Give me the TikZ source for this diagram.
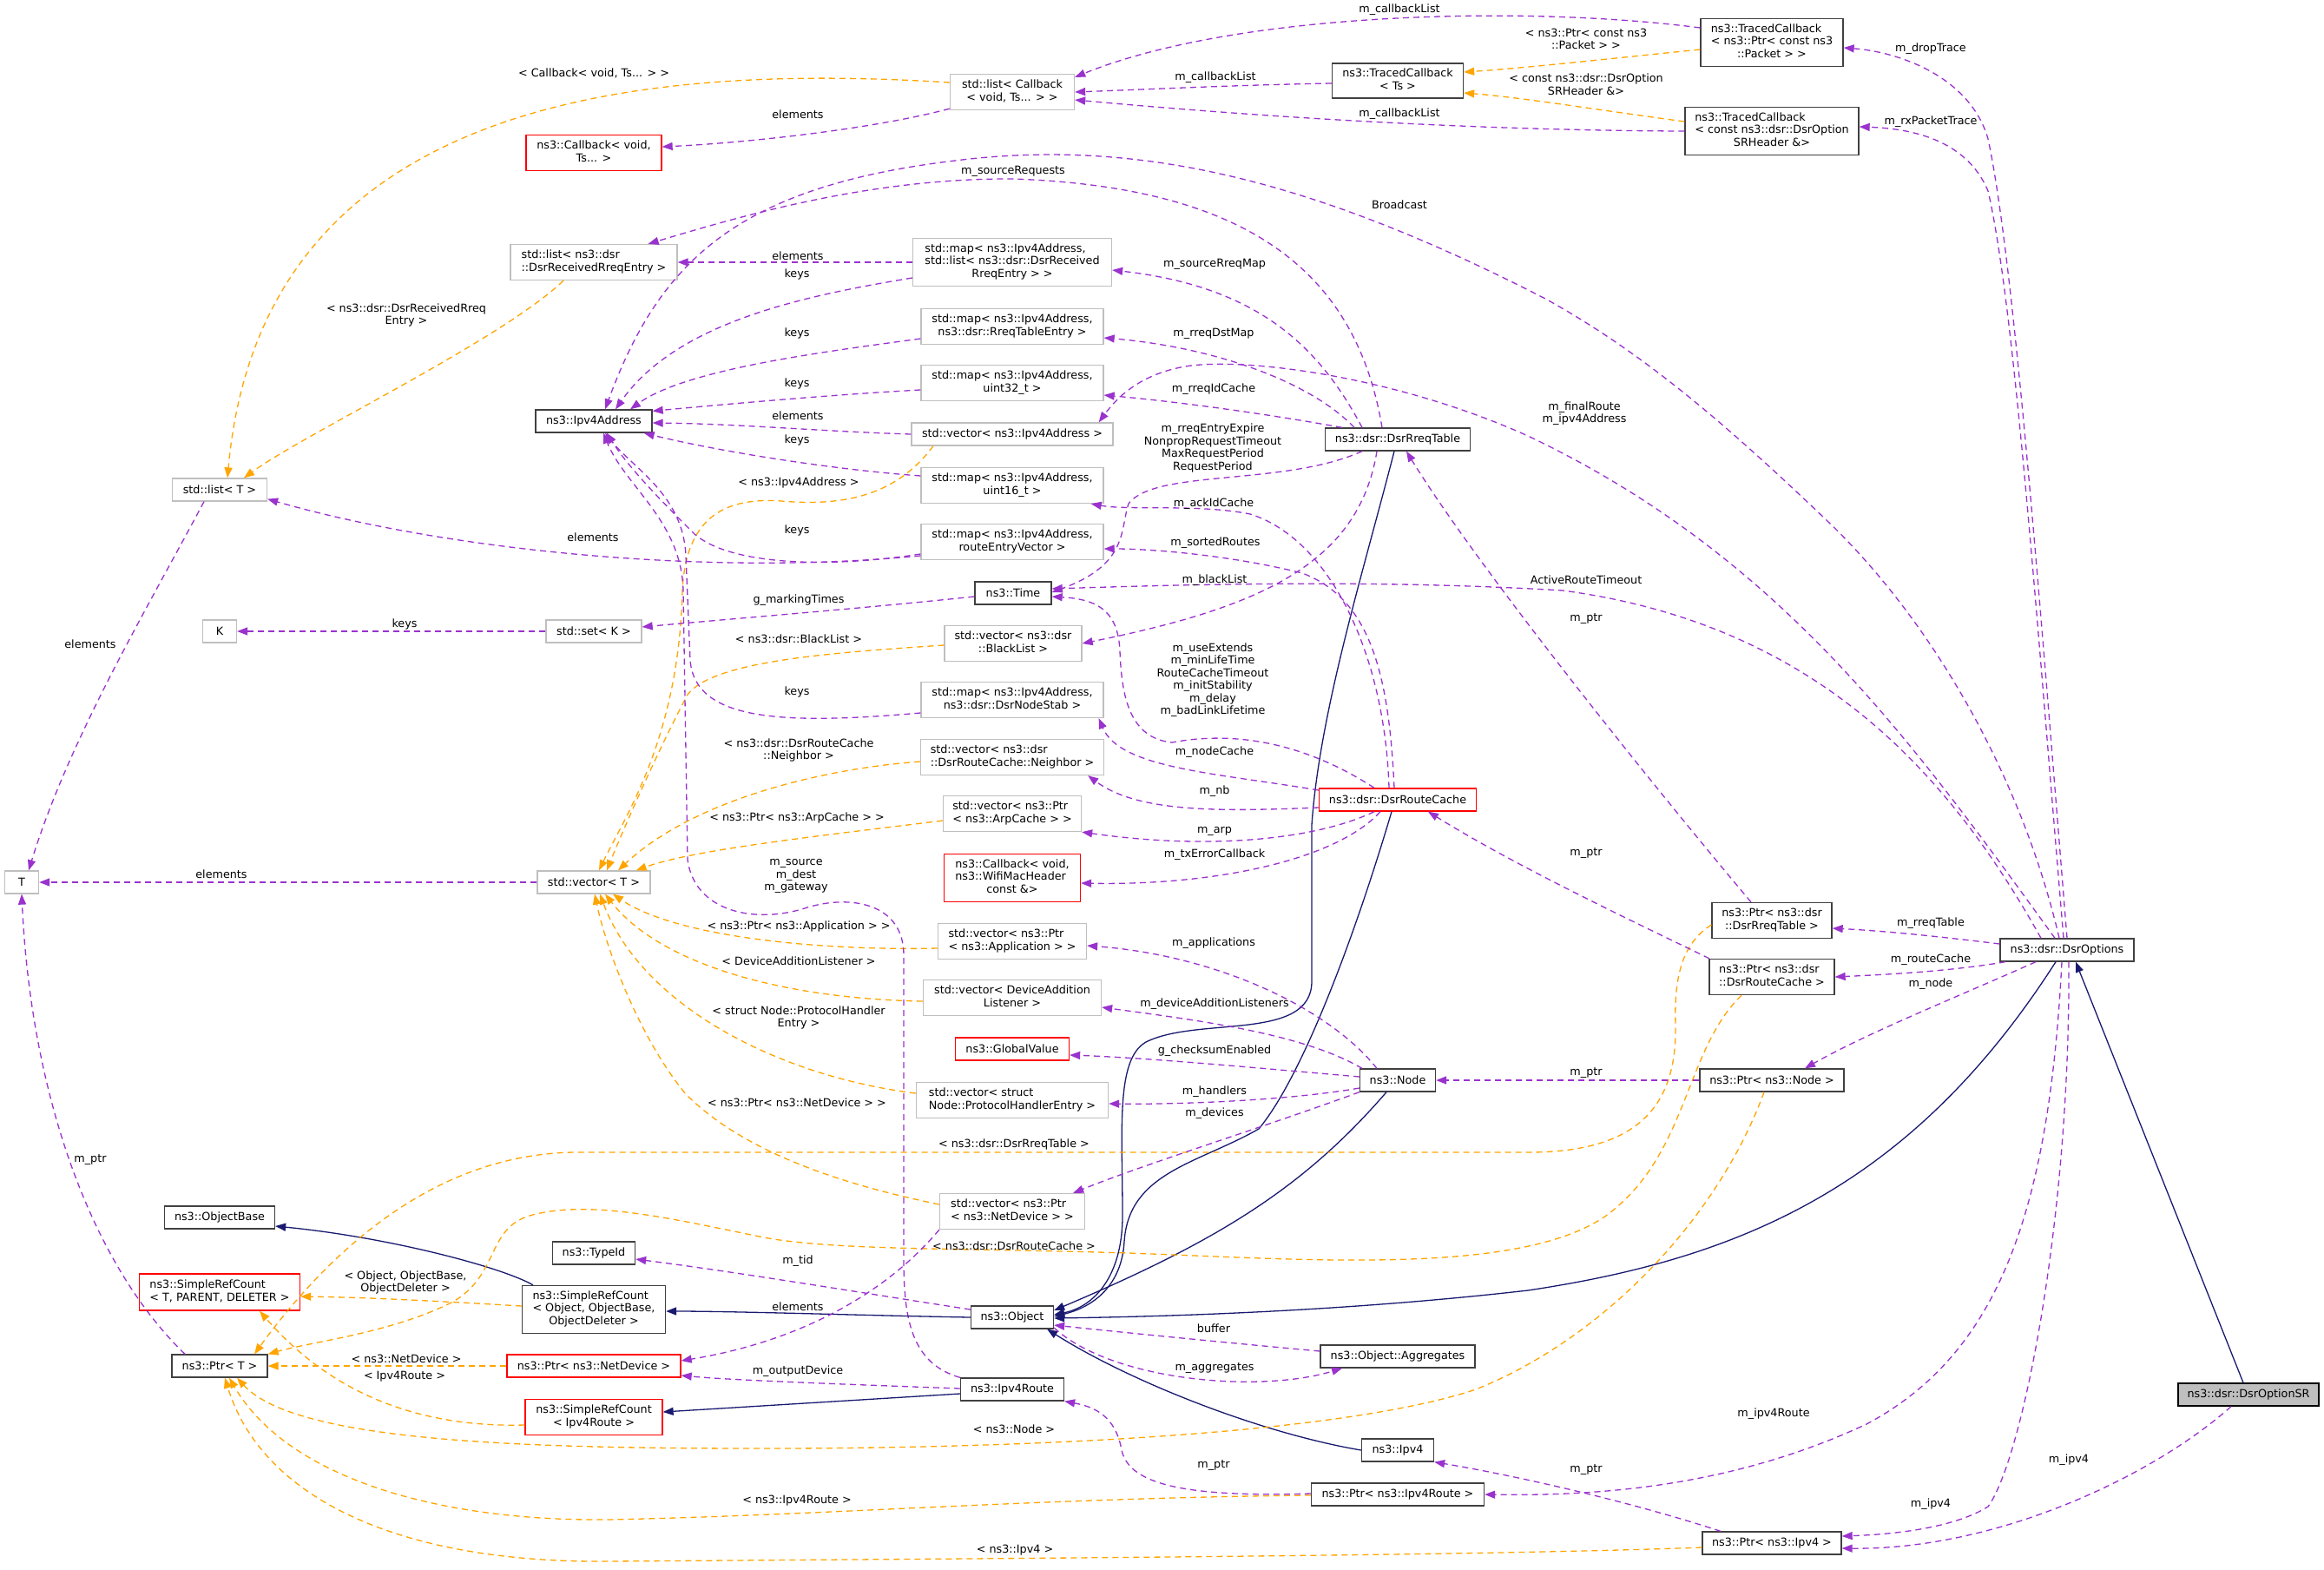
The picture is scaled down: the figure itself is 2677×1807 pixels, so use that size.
\documentclass[tikz,border=0pt]{standalone}
\usepackage{fontspec}
\setmainfont{DejaVu Sans}
\usetikzlibrary{arrows.meta}
\definecolor{usec}{HTML}{9A32CD}
\definecolor{tmplc}{HTML}{FFA500}
\definecolor{inhc}{HTML}{191970}
\definecolor{docb}{HTML}{404040}
\definecolor{extb}{HTML}{BFBFBF}
\definecolor{trb}{HTML}{FF0000}
\newcommand{\dxl}[2]{\begin{tabular}{@{}l@{}}#1\\\multicolumn{1}{@{}c@{}}{#2}\end{tabular}}
\begin{document}
\begin{tikzpicture}[x=1pt,y=-1pt,
  font=\fontsize{12.75pt}{14.5pt}\selectfont,
  box/.style={draw, fill=white, line width=1.3pt, inner sep=0pt, align=center},
  doc/.style={box, draw=docb},
  ext/.style={box, draw=extb},
  trn/.style={box, draw=trb},
  mainbox/.style={box, draw=black, fill=extb},
  wh/.style 2 args={minimum width=#1pt, minimum height=#2pt},
  usee/.style={draw=usec, line width=1.3pt, dash pattern=on 7pt off 5pt, -{Triangle[length=12pt,width=9pt]}},
  tmpe/.style={draw=tmplc, line width=1.3pt, dash pattern=on 7pt off 5pt, -{Triangle[length=12pt,width=9pt]}},
  inhe/.style={draw=inhc, line width=1.3pt, -{Triangle[length=12pt,width=9pt]}},
  lab/.style={align=center, inner sep=0pt}]
\fill[white] (0,0) rectangle (2677,1807);
\useasboundingbox (0,0) rectangle (2677,1807);

% ---------------- nodes ----------------
\node[doc,wh={164}{55}] (tcpkt) at (2041,49) {\dxl{ns3::TracedCallback\\< ns3::Ptr< const ns3}{::Packet > >}};
\node[doc,wh={200}{55}] (tcsr) at (2041,151) {\dxl{ns3::TracedCallback\\< const ns3::dsr::DsrOption}{SRHeader \&>}};
\node[doc,wh={151}{40}] (tcts) at (1610,93) {\dxl{ns3::TracedCallback}{< Ts >}};
\node[ext,wh={143}{41}] (listcb) at (1166,106) {\dxl{std::list< Callback}{< void, Ts... > >}};
\node[trn,wh={156}{41}] (cbvoid) at (684,176) {\dxl{ns3::Callback< void,}{Ts... >}};
\node[ext,wh={192}{41}] (listrreq) at (684,302) {\dxl{std::list< ns3::dsr}{::DsrReceivedRreqEntry >}};
\node[doc,wh={134}{26}] (ipv4addr) at (684,485) {ns3::Ipv4Address};
\node[ext,wh={109}{26}] (listT) at (253,564) {std::list< T >};
\node[ext,wh={229}{55}] (mapsrc) at (1166,302) {\dxl{std::map< ns3::Ipv4Address,\\std::list< ns3::dsr::DsrReceived}{RreqEntry > >}};
\node[ext,wh={210}{41}] (maprte) at (1166,376) {\dxl{std::map< ns3::Ipv4Address,}{ns3::dsr::RreqTableEntry >}};
\node[ext,wh={210}{41}] (mapu32) at (1166,441) {\dxl{std::map< ns3::Ipv4Address,}{uint32\_t >}};
\node[ext,wh={232}{26}] (vecip) at (1166,500) {std::vector< ns3::Ipv4Address >};
\node[ext,wh={210}{41}] (mapu16) at (1166,559) {\dxl{std::map< ns3::Ipv4Address,}{uint16\_t >}};
\node[doc,wh={167}{26}] (rreqtab) at (1610,506) {ns3::dsr::DsrRreqTable};
\node[ext,wh={210}{41}] (maprev) at (1166,624) {\dxl{std::map< ns3::Ipv4Address,}{routeEntryVector >}};
\node[doc,wh={88}{26}] (time) at (1167,683) {ns3::Time};
\node[ext,wh={158}{41}] (vecbl) at (1167,741) {\dxl{std::vector< ns3::dsr}{::BlackList >}};
\node[ext,wh={210}{41}] (mapns) at (1166,806) {\dxl{std::map< ns3::Ipv4Address,}{ns3::dsr::DsrNodeStab >}};
\node[ext,wh={211}{41}] (vecnb) at (1166,872) {\dxl{std::vector< ns3::dsr}{::DsrRouteCache::Neighbor >}};
\node[ext,wh={159}{41}] (vecarp) at (1166,937) {\dxl{std::vector< ns3::Ptr}{< ns3::ArpCache > >}};
\node[trn,wh={157}{55}] (cbwifi) at (1166,1011) {\dxl{ns3::Callback< void,\\ns3::WifiMacHeader}{const \&>}};
\node[ext,wh={171}{41}] (vecapp) at (1166,1084) {\dxl{std::vector< ns3::Ptr}{< ns3::Application > >}};
\node[ext,wh={205}{41}] (vecdal) at (1166,1149) {\dxl{std::vector< DeviceAddition}{Listener >}};
\node[trn,wh={131}{26}] (gval) at (1166,1208) {ns3::GlobalValue};
\node[trn,wh={181}{26}] (routec) at (1610,921) {ns3::dsr::DsrRouteCache};
\node[ext,wh={39}{26}] (K) at (253,727) {K};
\node[ext,wh={110}{26}] (setK) at (684,727) {std::set< K >};
\node[ext,wh={39}{26}] (T) at (25,1016) {T};
\node[ext,wh={130}{26}] (vecT) at (684,1016) {std::vector< T >};
\node[doc,wh={138}{41}] (ptrrreq) at (2041,1060) {\dxl{ns3::Ptr< ns3::dsr}{::DsrRreqTable >}};
\node[doc,wh={144}{41}] (ptrrc) at (2041,1125) {\dxl{ns3::Ptr< ns3::dsr}{::DsrRouteCache >}};
\node[doc,wh={154}{26}] (dsropt) at (2381,1094) {ns3::dsr::DsrOptions};
\node[doc,wh={127}{26}] (objbase) at (253,1402) {ns3::ObjectBase};
\node[trn,wh={185}{42}] (srcT) at (253,1488) {\dxl{ns3::SimpleRefCount}{< T, PARENT, DELETER >}};
\node[doc,wh={110}{26}] (ptrT) at (253,1573) {ns3::Ptr< T >};
\node[doc,wh={95}{26}] (typeid) at (684,1443) {ns3::TypeId};
\node[doc,wh={165}{55}] (srcobj) at (684,1508) {\dxl{ns3::SimpleRefCount\\< Object, ObjectBase,}{ObjectDeleter >}};
\node[trn,wh={200}{26}] (ptrnd) at (684,1573) {ns3::Ptr< ns3::NetDevice >};
\node[trn,wh={158}{41}] (srcip) at (684,1632) {\dxl{ns3::SimpleRefCount}{< Ipv4Route >}};
\node[ext,wh={221}{41}] (vecph) at (1166,1267) {\dxl{std::vector< struct}{Node::ProtocolHandlerEntry >}};
\node[doc,wh={87}{26}] (node) at (1610,1244) {ns3::Node};
\node[ext,wh={167}{41}] (vecnd) at (1166,1395) {\dxl{std::vector< ns3::Ptr}{< ns3::NetDevice > >}};
\node[doc,wh={95}{26}] (object) at (1166,1517) {ns3::Object};
\node[doc,wh={178}{26}] (objagg) at (1610,1562) {ns3::Object::Aggregates};
\node[doc,wh={119}{26}] (ipv4route) at (1166,1600) {ns3::Ipv4Route};
\node[doc,wh={83}{26}] (ipv4) at (1610,1670) {ns3::Ipv4};
\node[doc,wh={199}{26}] (ptrir) at (1610,1721) {ns3::Ptr< ns3::Ipv4Route >};
\node[doc,wh={166}{26}] (ptrnode) at (2041,1244) {ns3::Ptr< ns3::Node >};
\node[mainbox,wh={162}{26}] (dsrsr) at (2590,1606) {ns3::dsr::DsrOptionSR};
\node[doc,wh={160}{26}] (ptripv4) at (2041,1777) {ns3::Ptr< ns3::Ipv4 >};

% ---------------- connectors ----------------
\draw[usee] ([yshift=17pt]tcpkt.west) .. controls (1750,5) and (1420,15) .. ([yshift=-4pt]listcb.north east);
\draw[usee] ([yshift=-3pt]tcts.west) .. controls (1420,98) and (1320,103) .. (listcb.east);
\draw[usee] (tcsr.west) .. controls (1650,150) and (1380,128) .. ([yshift=-9pt]listcb.east);
\draw[tmpe] ([yshift=-8pt]tcpkt.west) .. controls (1850,68) and (1760,78) .. ([yshift=10pt]tcts.east);
\draw[tmpe] ([yshift=11pt]tcsr.west) .. controls (1830,125) and (1750,112) .. ([yshift=-14pt]tcts.east);
\draw[tmpe] ([yshift=11pt]listcb.west) .. controls (700,70) and (300,130) .. ([xshift=9pt]listT.north);
\draw[usee] ([yshift=2pt]listcb.south west) .. controls (1000,150) and (850,165) .. ([yshift=7pt]cbvoid.east);
\draw[tmpe] ([xshift=-35pt]listrreq.south) .. controls (580,390) and (350,500) .. ([xshift=28pt]listT.north);
\draw[usee] ([xshift=-18pt]rreqtab.north) .. controls (1560,300) and (1420,215) .. (1167,206) .. controls (1000,205) and (850,250) .. ([xshift=-34pt]listrreq.north east);
\draw[usee] ([xshift=-9pt]dsropt.north) .. controls (2330,900) and (2230,720) .. (2105,600) .. controls (2000,500) and (1900,410) .. (1780,344) .. controls (1500,200) and (1300,160) .. (1100,185) .. controls (850,215) and (760,300) .. ([xshift=13pt]ipv4addr.north);
\draw[usee] (mapsrc.west) -- (listrreq.east);
\draw[usee] ([yshift=-18pt]mapsrc.west) .. controls (930,340) and (780,370) .. ([xshift=25pt]ipv4addr.north);
\draw[usee] ([yshift=-14pt]maprte.west) .. controls (950,405) and (790,425) .. ([xshift=42pt]ipv4addr.north);
\draw[usee] ([yshift=-8pt]mapu32.west) .. controls (950,455) and (820,467) .. ([yshift=-2pt]ipv4addr.north east);
\draw[usee] (vecip.west) .. controls (950,497) and (850,488) .. ([yshift=-2pt]ipv4addr.east);
\draw[usee] ([yshift=11pt]mapu16.west) .. controls (950,540) and (820,518) .. ([xshift=-10pt]ipv4addr.south east);
\draw[tmpe] ([xshift=-91pt]vecip.south) .. controls (1040,560) and (990,585) .. (900,577) .. controls (830,572) and (790,600) .. (786,680) .. controls (782,850) and (720,940) .. ([xshift=6pt]vecT.north);
\draw[tmpe] ([yshift=-2pt]vecbl.west) .. controls (950,752) and (820,762) .. (792,800) .. controls (760,860) and (720,950) .. ([xshift=15pt]vecT.north);
\draw[tmpe] ([yshift=-5pt]vecnb.west) .. controls (950,885) and (800,920) .. ([xshift=28pt]vecT.north);
\draw[tmpe] ([yshift=-8pt]vecarp.west) .. controls (950,962) and (800,978) .. ([xshift=-17pt]vecT.north east);
\draw[tmpe] ([yshift=-8pt]vecapp.west) .. controls (950,1095) and (780,1080) .. ([xshift=22pt]vecT.south);
\draw[tmpe] ([yshift=-4pt]vecdal.west) .. controls (900,1150) and (760,1110) .. ([xshift=13pt]vecT.south);
\draw[tmpe] ([yshift=8pt]vecph.west) .. controls (900,1240) and (740,1160) .. ([xshift=7pt]vecT.south);
\draw[tmpe] ([yshift=8pt]vecnd.west) .. controls (950,1360) and (850,1320) .. (790,1260) .. controls (740,1200) and (700,1100) .. ([xshift=1pt]vecT.south);
\draw[usee] (ipv4route.north west) .. controls (1050,1570) and (1041,1520) .. (1041,1450) -- (1041,1100) .. controls (1041,1040) and (980,1030) .. (930,1045) .. controls (870,1065) and (800,1050) .. (792,990) -- (787,680) .. controls (785,600) and (720,560) .. ([xshift=11pt]ipv4addr.south);
\draw[usee] ([yshift=-14pt]maprev.west) .. controls (950,655) and (840,650) .. (800,615) .. controls (765,580) and (725,540) .. ([xshift=15pt]ipv4addr.south);
\draw[usee] ([yshift=-15pt]mapns.west) .. controls (900,835) and (800,830) .. (795,760) -- (790,640) .. controls (787,570) and (730,540) .. ([xshift=13pt]ipv4addr.south);
\draw[usee] ([yshift=-16pt]maprev.west) .. controls (800,665) and (500,630) .. ([yshift=3pt]listT.south east);
\draw[usee] ([xshift=-41pt]rreqtab.north) .. controls (1520,400) and (1450,330) .. ([yshift=-9pt]mapsrc.east);
\draw[usee] ([xshift=-50pt]rreqtab.north) .. controls (1510,440) and (1400,400) .. ([yshift=-13pt]maprte.east);
\draw[usee] ([xshift=-64pt]rreqtab.north) .. controls (1450,475) and (1350,462) .. ([yshift=-14pt]mapu32.east);
\draw[usee] ([xshift=-14pt]dsropt.north) .. controls (2200,850) and (2050,640) .. (1760,502) .. controls (1600,430) and (1420,410) .. (1360,423) .. controls (1310,433) and (1285,460) .. ([xshift=-17pt]vecip.north east);
\draw[usee] ([xshift=-41pt]rreqtab.south) .. controls (1480,560) and (1330,540) .. (1300,580) .. controls (1290,610) and (1300,650) .. ([yshift=1pt]time.east);
\draw[usee] ([xshift=-24pt]rreqtab.south) .. controls (1565,650) and (1450,700) .. (vecbl.east);
\draw[usee] ([xshift=-30pt]dsropt.north) .. controls (2250,900) and (2100,720) .. (1800,680) .. controls (1600,668) and (1400,672) .. ([yshift=5pt]time.east);
\draw[usee] ([xshift=-27pt]routec.north) .. controls (1510,860) and (1430,840) .. (1350,855) .. controls (1300,850) and (1292,800) .. (1290,750) .. controls (1288,700) and (1260,690) .. ([yshift=-4pt]time.east);
\draw[usee] ([yshift=-4pt]time.west) .. controls (1000,700) and (850,712) .. ([yshift=5pt]setK.east);
\draw[usee] (setK.west) -- (K.east);
\draw[usee] ([xshift=-18pt]listT.south) .. controls (170,700) and (80,850) .. ([xshift=8pt]T.north);
\draw[usee] (vecT.west) -- (T.east);
\draw[usee] ([xshift=-40pt]ptrT.north) .. controls (100,1450) and (35,1250) .. (T.south);
% inheritance
\draw[inhe] ([xshift=-4pt]rreqtab.south) .. controls (1570,660) and (1520,820) .. (1511,950) -- (1511,1130) .. controls (1511,1200) and (1380,1170) .. (1320,1200) .. controls (1285,1220) and (1293,1300) .. (1293,1400) .. controls (1293,1470) and (1260,1505) .. ([yshift=3pt]object.east);
\draw[inhe] ([xshift=-7pt]routec.south) .. controls (1560,1080) and (1500,1240) .. (1450,1300) .. controls (1380,1340) and (1300,1350) .. (1295,1430) .. controls (1292,1480) and (1260,1505) .. ([yshift=1pt]object.east);
\draw[inhe] ([xshift=-13pt]node.south) .. controls (1500,1370) and (1400,1430) .. ([yshift=8pt]object.east);
\draw[inhe] ([xshift=-13pt]dsropt.south) .. controls (2200,1370) and (2000,1450) .. (1760,1486) .. controls (1550,1510) and (1350,1516) .. ([yshift=-1pt]object.east);
\draw[inhe] (ipv4.west) .. controls (1450,1650) and (1300,1590) .. ([xshift=-8pt]object.south east);
\draw[inhe] ([xshift=-6pt]dsrsr.north) -- ([xshift=10pt]dsropt.south);
\draw[inhe] ([xshift=-70pt]srcobj.north) .. controls (580,1460) and (450,1425) .. ([yshift=-10pt]objbase.east);
\draw[inhe] (object.west) .. controls (1000,1515) and (850,1510) .. ([yshift=-2pt]srcobj.east);
\draw[inhe] ([yshift=-5pt]ipv4route.west) -- ([yshift=6pt]srcip.east);
% template instances
\draw[tmpe] ([yshift=4pt]srcobj.west) .. controls (500,1498) and (420,1494) .. ([yshift=-5pt]srcT.east);
\draw[tmpe] ([yshift=-9pt]srcip.west) .. controls (450,1645) and (360,1580) .. ([xshift=46pt]srcT.south);
\draw[tmpe] (ptrnd.west) -- (ptrT.east);
\draw[tmpe] ([yshift=-5pt]ptrrreq.west) .. controls (1940,1085) and (1928,1120) .. (1930,1180) .. controls (1932,1280) and (1880,1327) .. (1760,1327) -- (660,1327) .. controls (500,1330) and (380,1440) .. ([xshift=40pt]ptrT.north);
\draw[tmpe] ([xshift=-35pt]ptrrc.south) .. controls (1940,1210) and (1945,1330) .. (1850,1400) .. controls (1750,1470) and (1500,1450) .. (1300,1443) .. controls (1100,1437) and (960,1440) .. (880,1425) .. controls (780,1405) and (680,1380) .. (610,1400) .. controls (560,1415) and (575,1470) .. (520,1500) .. controls (450,1535) and (360,1545) .. (ptrT.north east);
\draw[tmpe] ([xshift=-9pt]ptrnode.south) .. controls (1980,1400) and (1850,1540) .. (1700,1600) .. controls (1550,1650) and (1200,1668) .. (880,1668) .. controls (600,1668) and (340,1660) .. ([xshift=20pt]ptrT.south);
\draw[tmpe] ([yshift=-1pt]ptrir.west) .. controls (1200,1725) and (950,1745) .. (700,1750) .. controls (500,1752) and (330,1700) .. ([xshift=11pt]ptrT.south);
\draw[tmpe] ([yshift=-5pt]ptripv4.west) .. controls (1700,1792) and (1100,1795) .. (700,1798) .. controls (450,1800) and (300,1720) .. ([xshift=6pt]ptrT.south);
% dsr usage
\draw[usee] ([xshift=-24pt]ptrrreq.north) .. controls (1900,900) and (1700,650) .. ([xshift=10pt]rreqtab.south);
\draw[usee] ([xshift=-72pt]ptrrc.north) .. controls (1900,1070) and (1750,1000) .. ([xshift=35pt]routec.south);
\draw[usee] (ptrnode.west) -- (node.east);
\draw[usee] ([yshift=7pt]dsropt.west) .. controls (2230,1078) and (2170,1072) .. ([yshift=-9pt]ptrrreq.east);
\draw[usee] ([xshift=-71pt]dsropt.south) .. controls (2250,1118) and (2180,1122) .. (ptrrc.east);
\draw[usee] ([xshift=-36pt]dsropt.south) .. controls (2250,1150) and (2150,1190) .. ([xshift=38pt]ptrnode.north);
\draw[usee] (dsropt.north) .. controls (2350,700) and (2320,300) .. (2290,160) .. controls (2270,90) and (2190,60) .. ([yshift=-6pt]tcpkt.east);
\draw[usee] ([xshift=-4pt]dsropt.north) .. controls (2345,700) and (2320,350) .. (2290,220) .. controls (2265,160) and (2200,148) .. ([yshift=5pt]tcsr.east);
\draw[usee] ([xshift=-6pt]dsropt.south) .. controls (2360,1400) and (2300,1560) .. (2150,1640) .. controls (2000,1710) and (1850,1723) .. (ptrir.east);
\draw[usee] ([xshift=2pt]dsropt.south) .. controls (2385,1400) and (2330,1680) .. (2290,1735) .. controls (2250,1760) and (2180,1767) .. ([yshift=8pt]ptripv4.east);
\draw[usee] ([xshift=-20pt]dsrsr.south) .. controls (2480,1700) and (2300,1785) .. ([yshift=-6pt]ptripv4.east);
\draw[usee] ([xshift=-59pt]ptripv4.north) .. controls (1880,1730) and (1750,1700) .. (ipv4.south east);
\draw[usee] ([yshift=1pt]ptrir.west) .. controls (1350,1725) and (1300,1705) .. (1292,1670) .. controls (1285,1630) and (1260,1620) .. (ipv4route.south east);
\draw[usee] ([yshift=1pt]ipv4route.west) .. controls (1000,1595) and (850,1590) .. ([yshift=-11pt]ptrnd.east);
\draw[usee] (vecnd.south west) .. controls (1020,1490) and (920,1545) .. ([yshift=6pt]ptrnd.east);
\draw[usee] ([yshift=9pt]object.west) .. controls (1000,1490) and (850,1465) .. ([yshift=-7pt]typeid.east);
\draw[usee] ([yshift=-12pt]object.east) .. controls (1280,1590) and (1450,1605) .. ([xshift=-64pt]objagg.south);
\draw[usee] ([yshift=6pt]objagg.west) .. controls (1400,1545) and (1300,1535) .. ([yshift=-9pt]object.east);
\draw[usee] ([xshift=-24pt]node.north) .. controls (1530,1160) and (1400,1100) .. ([yshift=-5pt]vecapp.east);
\draw[usee] ([xshift=-41pt]node.north) .. controls (1500,1190) and (1380,1175) .. ([yshift=-11pt]vecdal.east);
\draw[usee] ([yshift=4pt]node.west) .. controls (1450,1230) and (1320,1218) .. ([yshift=-7pt]gval.east);
\draw[usee] ([yshift=-9pt]node.west) .. controls (1480,1268) and (1350,1272) .. ([yshift=-4pt]vecph.east);
\draw[usee] (node.south west) .. controls (1450,1300) and (1320,1340) .. ([xshift=-14pt]vecnd.north east);
\draw[usee] ([xshift=-10pt]routec.north) .. controls (1595,750) and (1530,620) .. (1440,592) .. controls (1380,580) and (1300,588) .. ([xshift=-15pt]mapu16.south east);
\draw[usee] ([xshift=-4pt]routec.north) .. controls (1600,780) and (1580,690) .. (1500,660) .. controls (1420,640) and (1330,632) .. ([yshift=-8pt]maprev.east);
\draw[usee] ([yshift=11pt]routec.west) .. controls (1400,890) and (1290,885) .. ([xshift=-6pt]mapns.south east);
\draw[usee] ([yshift=-9pt]routec.west) .. controls (1400,935) and (1310,935) .. ([xshift=-19pt]vecnb.south east);
\draw[usee] ([xshift=-27pt]routec.south) .. controls (1520,965) and (1400,980) .. (vecarp.south east);
\draw[usee] ([xshift=-20pt]routec.south) .. controls (1540,990) and (1400,1020) .. ([yshift=-6pt]cbwifi.east);

% ---------------- labels ----------------
\node[lab] (l1) at (1612,11) {m\_callbackList};
\node[lab] (l2) at (1400,89) {m\_callbackList};
\node[lab] (l3) at (1612,131) {m\_callbackList};
\node[lab] (l4) at (1827,45) {< ns3::Ptr< const ns3\\::Packet > >};
\node[lab] (l5) at (1827,97) {< const ns3::dsr::DsrOption\\SRHeader \&>};
\node[lab] (l6) at (684,84) {< Callback< void, Ts... > >};
\node[lab] (l7) at (919,132) {elements};
\node[lab] (l8) at (468,363) {< ns3::dsr::DsrReceivedRreq\\Entry >};
\node[lab] (l9) at (1167,197) {m\_sourceRequests};
\node[lab] (l10) at (1612,236) {Broadcast};
\node[lab] (l11) at (919,295) {elements};
\node[lab] (l12) at (918,316) {keys};
\node[lab] (l13) at (1399,304) {m\_sourceRreqMap};
\node[lab] (l14) at (918,384) {keys};
\node[lab] (l15) at (1398,384) {m\_rreqDstMap};
\node[lab] (l16) at (918,442) {keys};
\node[lab] (l17) at (1398,448) {m\_rreqIdCache};
\node[lab] (l18) at (919,479) {elements};
\node[lab] (l19) at (918,507) {keys};
\node[lab] (l20) at (1397,516) {m\_rreqEntryExpire\\NonpropRequestTimeout\\MaxRequestPeriod\\RequestPeriod};
\node[lab] (l21) at (920,556) {< ns3::Ipv4Address >};
\node[lab] (l22) at (1398,580) {m\_ackIdCache};
\node[lab] (l23) at (918,611) {keys};
\node[lab] (l24) at (683,619) {elements};
\node[lab] (l25) at (1400,625) {m\_sortedRoutes};
\node[lab] (l26) at (1825,476) {m\_finalRoute\\m\_ipv4Address};
\node[lab] (l27) at (1399,668) {m\_blackList};
\node[lab] (l28) at (1827,668) {ActiveRouteTimeout};
\node[lab] (l29) at (920,691) {g\_markingTimes};
\node[lab] (l30) at (466,719) {keys};
\node[lab] (l31) at (104,742) {elements};
\node[lab] (l32) at (1827,713) {m\_ptr};
\node[lab] (l33) at (920,736) {< ns3::dsr::BlackList >};
\node[lab] (l34) at (1397,783) {m\_useExtends\\m\_minLifeTime\\RouteCacheTimeout\\m\_initStability\\m\_delay\\m\_badLinkLifetime};
\node[lab] (l35) at (918,797) {keys};
\node[lab] (l36) at (920,864) {< ns3::dsr::DsrRouteCache\\::Neighbor >};
\node[lab] (l37) at (1399,866) {m\_nodeCache};
\node[lab] (l38) at (1399,911) {m\_nb};
\node[lab] (l39) at (918,942) {< ns3::Ptr< ns3::ArpCache > >};
\node[lab] (l40) at (1399,957) {m\_arp};
\node[lab] (l41) at (1399,984) {m\_txErrorCallback};
\node[lab] (l42) at (1827,983) {m\_ptr};
\node[lab] (l43) at (917,1009) {m\_source\\m\_dest\\m\_gateway};
\node[lab] (l44) at (920,1067) {< ns3::Ptr< ns3::Application > >};
\node[lab] (l45) at (1398,1086) {m\_applications};
\node[lab] (l46) at (920,1107) {< DeviceAdditionListener >};
\node[lab] (l47) at (1399,1156) {m\_deviceAdditionListeners};
\node[lab] (l48) at (920,1172) {< struct Node::ProtocolHandler\\Entry >};
\node[lab] (l49) at (1399,1210) {g\_checksumEnabled};
\node[lab] (l50) at (1399,1257) {m\_handlers};
\node[lab] (l51) at (1399,1282) {m\_devices};
\node[lab] (l52) at (918,1270) {< ns3::Ptr< ns3::NetDevice > >};
\node[lab] (l53) at (1168,1318) {< ns3::dsr::DsrRreqTable >};
\node[lab] (l54) at (1827,1236) {m\_ptr};
\node[lab] (l55) at (2224,1063) {m\_rreqTable};
\node[lab] (l56) at (2224,1105) {m\_routeCache};
\node[lab] (l57) at (2224,1133) {m\_node};
\node[lab] (l58) at (1168,1435) {< ns3::dsr::DsrRouteCache >};
\node[lab] (l59) at (919,1452) {m\_tid};
\node[lab] (l60) at (467,1477) {< Object, ObjectBase,\\ObjectDeleter >};
\node[lab] (l61) at (919,1505) {elements};
\node[lab] (l62) at (1398,1530) {buffer};
\node[lab] (l63) at (468,1565) {< ns3::NetDevice >};
\node[lab] (l64) at (919,1579) {m\_outputDevice};
\node[lab] (l65) at (1399,1576) {m\_aggregates};
\node[lab] (l66) at (466,1585) {< Ipv4Route >};
\node[lab] (l67) at (2043,1628) {m\_ipv4Route};
\node[lab] (l68) at (1168,1646) {< ns3::Node >};
\node[lab] (l69) at (2383,1681) {m\_ipv4};
\node[lab] (l70) at (1398,1688) {m\_ptr};
\node[lab] (l71) at (1827,1693) {m\_ptr};
\node[lab] (l72) at (918,1728) {< ns3::Ipv4Route >};
\node[lab] (l73) at (2224,1732) {m\_ipv4};
\node[lab] (l74) at (1169,1785) {< ns3::Ipv4 >};
\node[lab] (l75) at (104,1336) {m\_ptr};
\node[lab] (l76) at (255,1007) {elements};
\node[lab] (l77) at (2224,56) {m\_dropTrace};
\node[lab] (l78) at (2224,140) {m\_rxPacketTrace};
\end{tikzpicture}
\end{document}
